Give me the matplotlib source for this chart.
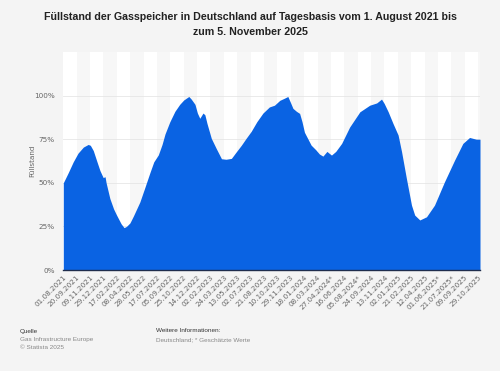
import numpy as np
import pandas as pd
import matplotlib
matplotlib.use("Agg")
import matplotlib.pyplot as plt

# Füllstand (%) an ausgewählten Tagen
dates = [
    "2021-08-01", "2021-08-20", "2021-09-07", "2021-09-25", "2021-10-15", "2021-11-02",
    "2021-11-10", "2021-11-21", "2021-12-05", "2021-12-16", "2021-12-28", "2022-01-04",
    "2022-01-08", "2022-01-22", "2022-02-05", "2022-02-16", "2022-03-05", "2022-03-16",
    "2022-03-25", "2022-04-07", "2022-04-20", "2022-05-14", "2022-06-01", "2022-06-21",
    "2022-07-05", "2022-07-22", "2022-08-05", "2022-08-16", "2022-09-03", "2022-09-22",
    "2022-10-10", "2022-10-25", "2022-11-13", "2022-11-22", "2022-12-06", "2022-12-15",
    "2022-12-24", "2023-01-05", "2023-01-12", "2023-01-20", "2023-02-05", "2023-02-24",
    "2023-03-15", "2023-04-01", "2023-04-21", "2023-05-08", "2023-05-28", "2023-06-15",
    "2023-07-04", "2023-07-25", "2023-08-17", "2023-09-10", "2023-09-29", "2023-10-19",
    "2023-11-05", "2023-11-18", "2023-11-28", "2023-12-07", "2023-12-20", "2024-01-01",
    "2024-01-10", "2024-01-19", "2024-02-13", "2024-03-01", "2024-03-15", "2024-03-28",
    "2024-04-12", "2024-04-29", "2024-05-15", "2024-06-06", "2024-07-06", "2024-08-13",
    "2024-09-19", "2024-10-15", "2024-11-02", "2024-11-12", "2024-11-27", "2024-12-15",
    "2025-01-03", "2025-01-16", "2025-02-03", "2025-02-22", "2025-03-06", "2025-03-25",
    "2025-04-19", "2025-05-19", "2025-06-25", "2025-08-02", "2025-09-02", "2025-09-27",
    "2025-10-22", "2025-11-05",
]
fuellstand = [
    50.0, 56.0, 62.0, 67.0, 70.5, 72.0,
    71.5, 68.5, 62.0, 57.0, 53.0, 53.5,
    50.0, 41.0, 35.0, 31.5, 26.5, 24.3,
    25.0, 27.0, 31.0, 39.0, 47.0, 56.0,
    62.0, 66.0, 72.0, 78.0, 85.0, 91.0,
    95.0, 97.5, 99.5, 98.0, 95.0, 90.0,
    87.0, 90.0, 89.0, 84.0, 75.5, 69.5,
    63.8, 63.5, 64.0, 67.5, 71.5, 75.5,
    79.5, 85.0, 90.0, 93.5, 94.5, 97.3,
    98.5, 99.5, 96.0, 92.7, 91.0, 89.8,
    85.0, 79.0, 71.6, 69.0, 66.5, 65.3,
    68.0, 65.9, 68.0, 72.6, 82.0, 90.7,
    94.5, 95.8, 98.0, 95.5, 90.7, 84.0,
    77.4, 67.8, 52.5, 37.2, 31.5, 28.7,
    30.5, 37.2, 50.5, 63.0, 72.6, 76.0,
    75.0, 75.0,
]

tick_labels = [
    "01.08.2021", "20.09.2021", "09.11.2021", "29.12.2021", "17.02.2022", "08.04.2022",
    "28.05.2022", "17.07.2022", "05.09.2022", "25.10.2022", "14.12.2022", "02.02.2023",
    "24.03.2023", "13.05.2023", "02.07.2023", "21.08.2023", "10.10.2023", "29.11.2023",
    "18.01.2024", "08.03.2024", "27.04.2024*", "16.06.2024", "05.08.2024*", "24.09.2024",
    "13.11.2024", "02.01.2025", "21.02.2025", "12.04.2025", "01.06.2025*", "21.07.2025*",
    "09.09.2025", "29.10.2025",
]
y_ticks = [0, 25, 50, 75, 100]

x = pd.to_datetime(dates)
tick_pos = pd.to_datetime([t.rstrip("*") for t in tick_labels], format="%d.%m.%Y")
start, end = x[0], x[-1]

fig = plt.figure(figsize=(5, 3.71), dpi=100, facecolor="#f4f4f4")
ax = fig.add_axes([0.1266, 0.2722, 0.8334, 0.5876])
ax.set_facecolor("#ffffff")

# ganz feine Streifen im Hintergrund
edges = list(tick_pos) + [end]
for i in range(len(edges) - 1):
    if i % 2 == 1:
        ax.axvspan(edges[i], edges[i + 1], color="#f7f7f7", lw=0, zorder=0)

for yv in y_ticks[1:]:
    ax.axhline(yv, color="#e6e6e6", lw=0.6, zorder=1)

ax.fill_between(x, fuellstand, 0, color="#0a63e3", lw=0, zorder=2)

ax.set_xlim(start, end)
ax.set_ylim(0, 125)
ax.set_yticks(y_ticks)
ax.set_yticklabels([f"{v}%" for v in y_ticks])
ax.set_xticks(tick_pos)
ax.set_xticklabels(tick_labels, rotation=45, ha="right", rotation_mode="anchor")
ax.tick_params(axis="both", length=0, labelsize=5.2, labelcolor="#666666")
ax.tick_params(axis="x", pad=3)
ax.tick_params(axis="y", pad=6)

for s in ["top", "right", "left"]:
    ax.spines[s].set_visible(False)
ax.spines["bottom"].set_color("#1f2d4d")
ax.spines["bottom"].set_linewidth(1.0)
ax.spines["bottom"].set_zorder(3)

ax.set_ylabel("Füllstand", fontsize=5.2, color="#666666")
ax.yaxis.set_label_coords(-0.068, 0.5)

fig.text(0.5, 0.968, "Füllstand der Gasspeicher in Deutschland auf Tagesbasis vom 1. August 2021 bis\nzum 5. November 2025",
         ha="center", va="top", fontsize=7.7, fontweight="bold", color="#222222",
         family="Liberation Sans", linespacing=1.7)

ft = dict(fontsize=4.6, family="Liberation Sans", va="center")
fig.text(0.040, 1 - 331 / 371, "Quelle", color="#333333", **ft)
fig.text(0.040, 1 - 339.5 / 371, "Gas Infrastructure Europe", color="#888888", **ft)
fig.text(0.040, 1 - 347.5 / 371, "© Statista 2025", color="#888888", **ft)
fig.text(0.311, 1 - 331 / 371, "Weitere Informationen:", color="#333333", **ft)
fig.text(0.311, 1 - 339.5 / 371, "Deutschland; * Geschätzte Werte", color="#888888", **ft)

fig.savefig("out.png", dpi=100, facecolor=fig.get_facecolor())
